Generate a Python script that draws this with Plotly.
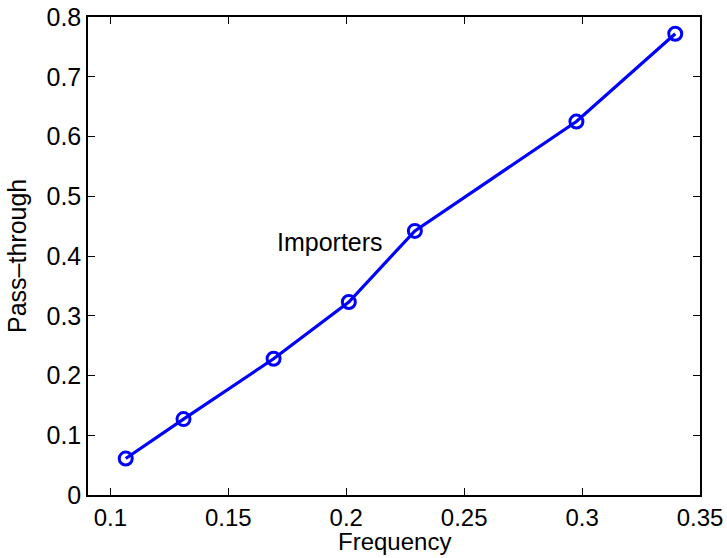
import plotly.graph_objects as go

frequency = [0.1065, 0.131, 0.1692, 0.2011, 0.2291, 0.2976, 0.3395]
pass_through = [0.061, 0.127, 0.228, 0.323, 0.442, 0.625, 0.772]

x_ticks = [0.1, 0.15, 0.2, 0.25, 0.3, 0.35]
x_tick_labels = ["0.1", "0.15", "0.2", "0.25", "0.3", "0.35"]
y_ticks = [0, 0.1, 0.2, 0.3, 0.4, 0.5, 0.6, 0.7, 0.8]
y_tick_labels = ["0", "0.1", "0.2", "0.3", "0.4", "0.5", "0.6", "0.7", "0.8"]

FONT = "Liberation Sans, Arial, Helvetica, sans-serif"
FS = 25

fig = go.Figure()
fig.add_trace(go.Scatter(
    x=frequency, y=pass_through, mode="lines+markers",
    line=dict(color="#0000FF", width=3.2),
    marker=dict(symbol="circle-open", size=13, color="#0000FF", line=dict(width=3, color="#0000FF")),
    showlegend=False,
))

fig.add_annotation(x=0.1699, y=0.424, text="Importers", showarrow=False,
                   xanchor="left", yanchor="middle", font=dict(family=FONT, size=FS, color="black"))

# axis titles
fig.add_annotation(x=0.5, y=-0.097, xref="paper", yref="paper", text="Frequency", showarrow=False,
                   xanchor="center", yanchor="middle", borderpad=0,
                   font=dict(family=FONT, size=24, color="black"))
fig.add_annotation(x=-0.116, y=0.5, xref="paper", yref="paper", text="Pass–through", showarrow=False,
                   textangle=-90, xanchor="center", yanchor="middle",
                   font=dict(family=FONT, size=FS, color="black"))

axis_common = dict(showline=True, linecolor="black", linewidth=1.5, mirror="ticks",
                   ticks="inside", ticklen=7, tickwidth=1, tickcolor="black",
                   showgrid=False, zeroline=False, automargin=False)

fig.update_xaxes(range=[0.0905, 0.35], tickvals=x_ticks, ticktext=x_tick_labels,
                 tickfont=dict(family=FONT, size=24, color="black"), **axis_common)
fig.update_yaxes(range=[0, 0.8], tickvals=y_ticks, ticktext=y_tick_labels,
                 tickfont=dict(family=FONT, size=FS, color="black"), **axis_common)

fig.update_layout(width=727, height=558, margin=dict(l=88, r=27, t=17, b=63),
                  plot_bgcolor="white", paper_bgcolor="white")

fig.write_html("out.html")
